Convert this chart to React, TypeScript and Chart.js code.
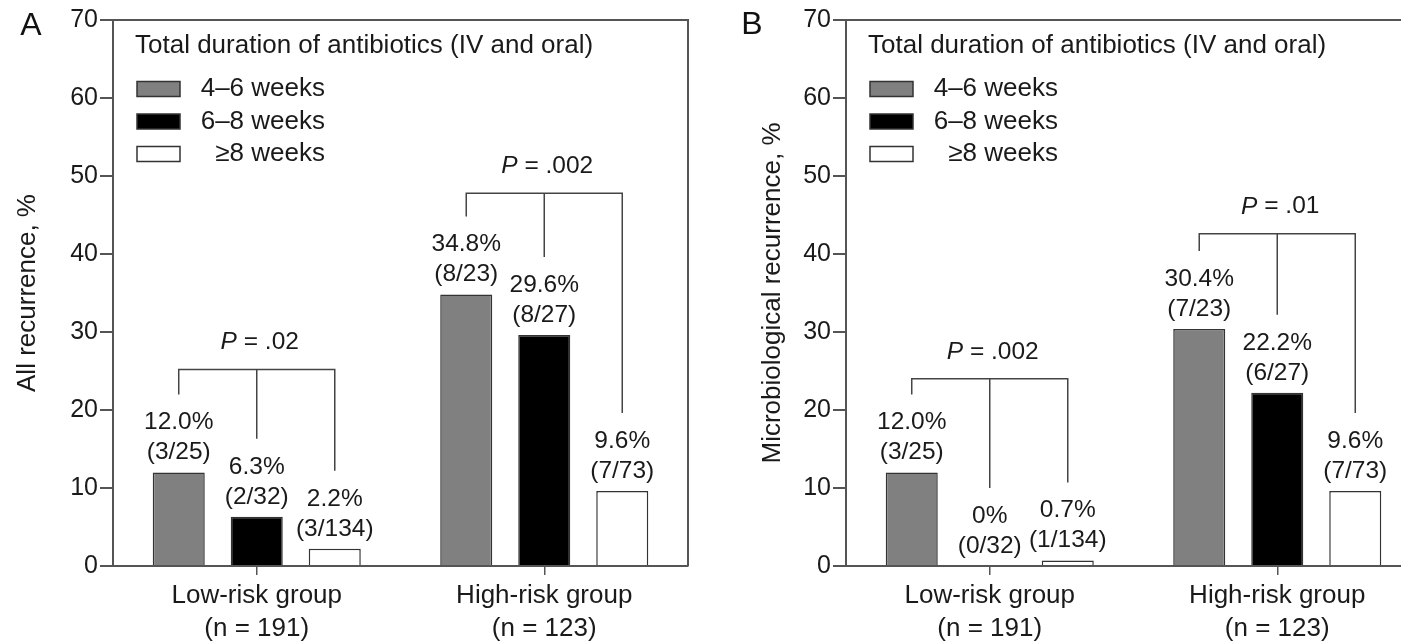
import React, { useEffect, useRef } from "react";
import { Chart, registerables } from "chart.js";

Chart.register(...registerables);

const FF = "'Liberation Sans', Arial, Helvetica, sans-serif";

// ---------- data ----------
const categories = [
  ["Low-risk group", "(n = 191)"],
  ["High-risk group", "(n = 123)"],
];
const seriesNames = ["4–6 weeks", "6–8 weeks", "≥8 weeks"];
const seriesColors = ["#808080", "#000000", "#ffffff"];
const legendTitle = "Total duration of antibiotics (IV and oral)";
const yMin = 0;
const yMax = 70;
const yStep = 10;

// Panel A: all recurrence
const allTitle = "All recurrence, %";
const all46 = [12.0, 34.8];
const all68 = [6.3, 29.6];
const all8 = [2.2, 9.6];
const allCounts46 = ["(3/25)", "(8/23)"];
const allCounts68 = ["(2/32)", "(8/27)"];
const allCounts8 = ["(3/134)", "(7/73)"];
const allPValues = [".02", ".002"];
const allBracketLevels = [25.2, 47.8];

// Panel B: microbiological recurrence
const microTitle = "Microbiological recurrence, %";
const micro46 = [12.0, 30.4];
const micro68 = [0, 22.2];
const micro8 = [0.7, 9.6];
const microCounts46 = ["(3/25)", "(7/23)"];
const microCounts68 = ["(0/32)", "(6/27)"];
const microCounts8 = ["(1/134)", "(7/73)"];
const microPValues = [".002", ".01"];
const microBracketLevels = [24.0, 42.6];

const fmtPct = (v: number) => (v === 0 ? "0%" : v.toFixed(1) + "%");

const annotPlugin = {
  id: "annot",
  afterDraw(chart: any, _args: any, opts: any) {
    const ctx = chart.ctx as CanvasRenderingContext2D;
    const { left, right, top, bottom } = chart.chartArea;
    const yScale = chart.scales.y;
    ctx.save();

    // frame (top + right)
    ctx.strokeStyle = "#555";
    ctx.lineWidth = 2;
    ctx.beginPath();
    ctx.moveTo(left, top);
    ctx.lineTo(right, top);
    ctx.lineTo(right, bottom);
    ctx.stroke();

    // panel letter
    ctx.fillStyle = "#111";
    ctx.font = `32px ${FF}`;
    ctx.textAlign = "center";
    ctx.textBaseline = "middle";
    ctx.fillText(opts.letter, opts.letterX, opts.letterY);

    // legend
    ctx.font = `26px ${FF}`;
    ctx.textAlign = "left";
    ctx.fillStyle = "#1a1a1a";
    ctx.fillText(opts.legendTitle, left + 22, top + 26);
    chart.data.datasets.forEach((ds: any, i: number) => {
      const cy = top + 69 + i * 32.5;
      ctx.fillStyle = ds.backgroundColor;
      ctx.fillRect(left + 24, cy - 7.5, 43, 15);
      ctx.strokeStyle = "#333";
      ctx.lineWidth = 1.5;
      ctx.strokeRect(left + 24, cy - 7.5, 43, 15);
      ctx.fillStyle = "#1a1a1a";
      ctx.textAlign = "right";
      ctx.fillText(ds.label, left + 212, cy);
    });

    // bar labels
    ctx.font = `24.5px ${FF}`;
    ctx.textAlign = "center";
    ctx.fillStyle = "#1a1a1a";
    chart.data.datasets.forEach((ds: any, i: number) => {
      const meta = chart.getDatasetMeta(i);
      meta.data.forEach((el: any, j: number) => {
        ctx.fillText(fmtPct(ds.data[j]), el.x, el.y - 50);
        ctx.fillText(opts.counts[i][j], el.x, el.y - 20);
      });
    });

    // brackets + P values
    const n = chart.data.labels.length;
    for (let j = 0; j < n; j++) {
      const els = [0, 1, 2].map((i) => chart.getDatasetMeta(i).data[j]);
      const yl = yScale.getPixelForValue(opts.levels[j]);
      ctx.strokeStyle = "#444";
      ctx.lineWidth = 1.5;
      ctx.beginPath();
      ctx.moveTo(els[0].x, els[0].y - 78);
      ctx.lineTo(els[0].x, yl);
      ctx.lineTo(els[2].x, yl);
      ctx.lineTo(els[2].x, els[2].y - 78);
      ctx.moveTo(els[1].x, yl);
      ctx.lineTo(els[1].x, els[1].y - 78);
      ctx.stroke();

      const rest = " = " + opts.pValues[j];
      ctx.font = `italic 24.5px ${FF}`;
      const wP = ctx.measureText("P").width;
      ctx.font = `24.5px ${FF}`;
      const wR = ctx.measureText(rest).width;
      const x0 = els[1].x + 3 - (wP + wR) / 2;
      ctx.textAlign = "left";
      ctx.fillStyle = "#1a1a1a";
      ctx.font = `italic 24.5px ${FF}`;
      ctx.fillText("P", x0, yl - 27);
      ctx.font = `24.5px ${FF}`;
      ctx.fillText(rest, x0 + wP, yl - 27);
    }
    ctx.restore();
  },
};

type PanelProps = {
  letter: string;
  yTitle: string;
  s46: number[];
  s68: number[];
  s8: number[];
  counts: string[][];
  pValues: string[];
  levels: number[];
  left: number;
  width: number;
  yAxisWidth: number;
  yTitlePad: number;
  rightPad: number;
  letterX: number;
  letterY: number;
};

function Panel(p: PanelProps) {
  const ref = useRef<HTMLCanvasElement>(null);
  useEffect(() => {
    if (!ref.current) return;
    const series = [p.s46, p.s68, p.s8];
    const chart = new Chart(ref.current, {
      type: "bar",
      data: {
        labels: categories as any,
        datasets: series.map((d, i) => ({
          label: seriesNames[i],
          data: d,
          backgroundColor: seriesColors[i],
          borderColor: "#333",
          borderWidth: 1.5,
          categoryPercentage: 0.814,
          barPercentage: 0.667,
        })),
      },
      options: {
        responsive: false,
        animation: false,
        layout: { padding: { left: 0, top: 20, right: p.rightPad, bottom: 0 } },
        plugins: {
          legend: { display: false },
          tooltip: { enabled: false },
          annot: {
            letter: p.letter,
            letterX: p.letterX,
            letterY: p.letterY,
            legendTitle,
            counts: p.counts,
            pValues: p.pValues,
            levels: p.levels,
          },
        } as any,
        scales: {
          x: {
            offset: true,
            grid: {
              display: true,
              drawOnChartArea: false,
              offset: false,
              tickLength: 9,
              color: "#555",
              lineWidth: 1.5,
            },
            border: { display: true, color: "#555", width: 2 },
            ticks: {
              color: "#1a1a1a",
              font: { family: FF, size: 26, lineHeight: 1.27 },
              padding: 4,
              maxRotation: 0,
              autoSkip: false,
            },
            afterFit: (scale: any) => {
              scale.height = 76;
            },
          },
          y: {
            min: yMin,
            max: yMax,
            grid: {
              display: true,
              drawOnChartArea: false,
              tickLength: 13,
              color: "#555",
              lineWidth: 2,
            },
            border: { display: true, color: "#555", width: 2 },
            ticks: {
              stepSize: yStep,
              color: "#1a1a1a",
              font: { family: FF, size: 25 },
              padding: 2,
            },
            title: {
              display: true,
              text: p.yTitle,
              color: "#1a1a1a",
              font: { family: FF, size: 26, lineHeight: 1.2 },
              padding: { top: p.yTitlePad, bottom: 0 },
            },
            afterFit: (scale: any) => {
              scale.width = p.yAxisWidth;
            },
          },
        },
      },
      plugins: [annotPlugin],
    });
    return () => chart.destroy();
  }, []);
  return (
    <canvas
      ref={ref}
      width={p.width}
      height={642}
      style={{ position: "absolute", left: p.left, top: 0, width: p.width, height: 642 }}
    />
  );
}

export default function App() {
  return (
    <div
      style={{
        position: "fixed",
        left: 0,
        top: 0,
        width: 1401,
        height: 642,
        overflow: "hidden",
        background: "#fff",
      }}
    >
      <Panel
        letter="A"
        yTitle={allTitle}
        s46={all46}
        s68={all68}
        s8={all8}
        counts={[allCounts46, allCounts68, allCounts8]}
        pValues={allPValues}
        levels={allBracketLevels}
        left={0}
        width={700}
        yAxisWidth={113}
        yTitlePad={12}
        rightPad={12}
        letterX={31}
        letterY={26}
      />
      <Panel
        letter="B"
        yTitle={microTitle}
        s46={micro46}
        s68={micro68}
        s8={micro8}
        counts={[microCounts46, microCounts68, microCounts8]}
        pValues={microPValues}
        levels={microBracketLevels}
        left={700}
        width={740}
        yAxisWidth={146}
        yTitlePad={57}
        rightPad={19}
        letterX={52}
        letterY={25}
      />
    </div>
  );
}
